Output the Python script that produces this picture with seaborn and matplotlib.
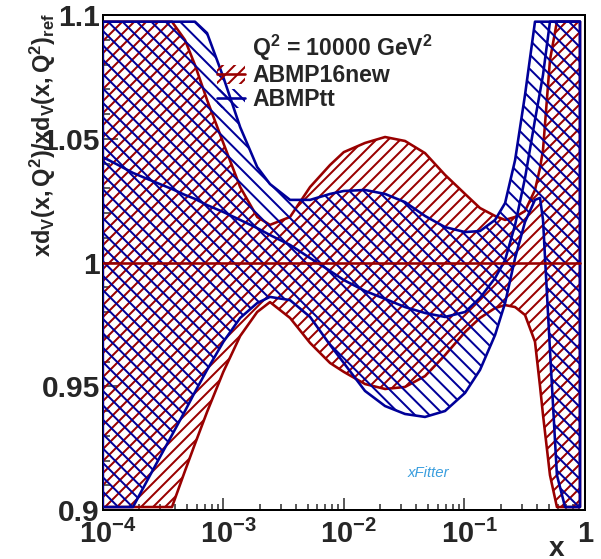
import numpy as np
import matplotlib
matplotlib.use("Agg")
import matplotlib.pyplot as plt
import matplotlib.hatch as mhatch
import matplotlib.transforms as mtransforms
from matplotlib.patches import Patch
from matplotlib.lines import Line2D
from matplotlib.ticker import LogLocator, NullFormatter, MultipleLocator
import seaborn as sns

# ---------------- data ----------------
x_values = [1.0e-4, 1.39e-4, 1.78e-4, 2.47e-4, 3.75e-4, 4.81e-4, 5.82e-4, 7.33e-4,
            1.0e-3, 1.38e-3, 1.91e-3, 2.44e-3, 3.58e-3, 5.25e-3, 7.69e-3, 1.0e-2,
            1.50e-2, 2.20e-2, 3.22e-2, 4.72e-2, 6.92e-2, 0.1014, 0.135, 0.180,
            0.218, 0.264, 0.319, 0.386, 0.425, 0.450, 0.514, 0.587, 0.686, 0.783, 0.912]

abmp16_upper = [1.1, 1.1, 1.1, 1.1, 1.1, 1.0899, 1.0798, 1.0657, 1.0483, 1.0305,
                1.0184, 1.0152, 1.0184, 1.0305, 1.0394, 1.0446, 1.0483, 1.0507, 1.0491,
                1.0442, 1.0354, 1.0277, 1.0220, 1.0188, 1.0172, 1.0184, 1.0208, 1.0293,
                1.0382, 1.0455, 1.0818, 1.1, 1.1, 1.1, 1.1]
abmp16_lower = [0.9, 0.9, 0.9, 0.9, 0.9, 0.9158, 0.9267, 0.9396, 0.9558, 0.9703,
                0.9800, 0.9840, 0.9776, 0.9675, 0.9594, 0.9558, 0.9509, 0.9489, 0.9497,
                0.9541, 0.9626, 0.9719, 0.9776, 0.9816, 0.9828, 0.9820, 0.9788, 0.9680,
                0.9500, 0.9384, 0.9141, 0.9, 0.9, 0.9, 0.9]
abmp16_central = [1.0] * 35

abmptt_upper = [1.1, 1.1, 1.1, 1.1, 1.1, 1.1, 1.1, 1.0927, 1.0749, 1.0547,
                1.0386, 1.0317, 1.0253, 1.0253, 1.0277, 1.0289, 1.0293, 1.0277, 1.0244,
                1.0188, 1.0143, 1.0123, 1.0127, 1.0172, 1.0240, 1.0414, 1.0677, 1.1,
                1.1, 1.1, 1.1, 1.1, 1.1, 1.1, 1.1]
abmptt_lower = [0.9, 0.9, 0.9, 0.9141, 0.9303, 0.9400, 0.9477, 0.9566, 0.9679, 0.9776,
                0.9836, 0.9861, 0.9848, 0.9780, 0.9667, 0.9594, 0.9481, 0.9420, 0.9388,
                0.9376, 0.9400, 0.9473, 0.9566, 0.9707, 0.9836, 1.0018, 1.0164, 1.0253,
                1.0261, 1.0172, 0.9646, 0.9141, 0.9, 0.9, 0.9]
abmptt_central = [1.0426, 1.0390, 1.0362, 1.0333, 1.0297, 1.0273, 1.0257, 1.0232, 1.0204,
                  1.0172, 1.0139, 1.0111, 1.0071, 1.0018, 0.9966, 0.9929, 0.9885, 0.9853,
                  0.9820, 0.9796, 0.9780, 0.9800, 0.9857, 0.9937, 1.0010, 1.0152, 1.0341,
                  1.0576, 1.0689, 1.0758, 1.1, 1.1, 1.1, 1.1, 1.1]

series_labels = ["ABMP16new", "ABMPtt"]
scale_label = r"$\mathrm{Q^{2}}$ = 10000 GeV$^{2}$"
x_ticks = [1e-4, 1e-3, 1e-2, 1e-1, 1.0]
x_tick_labels = [r"$\mathrm{10^{-4}}$", r"$\mathrm{10^{-3}}$", r"$\mathrm{10^{-2}}$",
                 r"$\mathrm{10^{-1}}$", "1"]
y_ticks = [0.9, 0.95, 1.0, 1.05, 1.1]
y_tick_labels = ["0.9", "0.95", "1", "1.05", "1.1"]
y_label = r"$\mathrm{xd_{V}(x,Q^{2})/xd_{V}(x,Q^{2})_{ref}}$"
x_label = "x"

# ---------------- style ----------------
RED = "#990000"
BLUE = "#000099"


# slightly wider spacing for the "\" hatch (ROOT style 3005-like)
class _WideSouthEastHatch(mhatch.SouthEastHatch):
    def __init__(self, hatch, density):
        self.num_lines = int(hatch.count("\\") * 10)
        self.num_vertices = (self.num_lines + 1) * 2 if self.num_lines else 0


try:
    _i = mhatch._hatch_types.index(mhatch.SouthEastHatch)
    mhatch._hatch_types[_i] = _WideSouthEastHatch
    BLUE_HATCH = "\\"
except Exception:
    BLUE_HATCH = "\\\\"

sns.set_theme(style="ticks")
plt.rcParams.update({
    "font.family": ["Liberation Sans", "DejaVu Sans"],
    "font.weight": "bold",
    "mathtext.fontset": "custom",
    "mathtext.rm": "Liberation Sans:bold",
    "mathtext.it": "Liberation Sans:bold",
    "mathtext.bf": "Liberation Sans:bold",
    "mathtext.default": "rm",
    "hatch.linewidth": 2.0,
    "axes.linewidth": 2.0,
    "axes.edgecolor": "black",
})

W, H, DPI = 601, 559, 72
fig = plt.figure(figsize=(W / DPI, H / DPI), dpi=DPI, facecolor="white")
ax = fig.add_axes([102.8 / W, 49 / H, 482.0 / W, 495 / H])
ax.set_facecolor("white")

x = np.array(x_values)
lo_cap, hi_cap = 0.9012, 1.0973

def cap(v):
    return np.clip(np.array(v), lo_cap, hi_cap)

# bands
plt.rcParams["hatch.color"] = RED
ax.fill_between(x, cap(abmp16_lower), cap(abmp16_upper), facecolor="none",
                edgecolor=RED, hatch="//", linewidth=2.6, zorder=2)
plt.rcParams["hatch.color"] = BLUE
ax.fill_between(x, cap(abmptt_lower), cap(abmptt_upper), facecolor="none",
                edgecolor=BLUE, hatch=BLUE_HATCH, linewidth=2.6, zorder=3)

# central lines
sns.lineplot(x=x, y=cap(abmptt_central), ax=ax, color=BLUE, linewidth=2.6,
             estimator=None, sort=False, zorder=4)
sns.lineplot(x=x, y=cap(abmp16_central), ax=ax, color=RED, linewidth=2.6,
             estimator=None, sort=False, zorder=5)

# axes
ax.set_xscale("log")
ax.set_xlim(1e-4, 1.0)
ax.set_ylim(0.9, 1.1)
ax.set_xticks(x_ticks, labels=x_tick_labels)
ax.xaxis.set_minor_locator(LogLocator(base=10, subs=np.arange(2, 10)))
ax.xaxis.set_minor_formatter(NullFormatter())
ax.set_yticks(y_ticks, labels=y_tick_labels)
ax.yaxis.set_minor_locator(MultipleLocator(0.01))

ax.tick_params(axis="x", which="major", direction="in", length=12, width=1.5,
               labelsize=29, pad=10, top=False)
ax.tick_params(axis="x", which="minor", direction="in", length=6, width=1.5, top=False)
ax.tick_params(axis="y", which="major", direction="in", length=15, width=1.5,
               labelsize=30, pad=3, right=False)
ax.tick_params(axis="y", which="minor", direction="in", length=7, width=1.5, right=False)
for lab in ax.get_yticklabels() + ax.get_xticklabels():
    lab.set_fontweight("bold")

offset = mtransforms.ScaledTranslation(5 / DPI, 0, fig.dpi_scale_trans)
for lab in ax.get_xticklabels()[:-1]:
    lab.set_transform(lab.get_transform() + offset)

for s in ["top", "right", "left", "bottom"]:
    ax.spines[s].set_visible(True)
    ax.spines[s].set_linewidth(2.0)
    ax.spines[s].set_color("black")

ax.set_ylabel(y_label, fontsize=23.5, loc="top")
ax.yaxis.set_label_coords(-0.092, 1.004)
ax.set_xlabel(x_label, fontsize=28, fontweight="bold", loc="right")
ax.xaxis.set_label_coords(0.958, -0.052)

# legend
q2_handle = Patch(visible=False)
red_handle = (Patch(facecolor="none", edgecolor=RED, hatch="//", linewidth=0),
              Line2D([], [], color=RED, linewidth=2.6))
blue_handle = (Patch(facecolor="none", edgecolor=BLUE, hatch=BLUE_HATCH, linewidth=0),
               Line2D([], [], color=BLUE, linewidth=2.6))
leg = ax.legend([q2_handle, red_handle, blue_handle],
                [scale_label] + series_labels,
                loc="upper left", bbox_to_anchor=(217 / W, 1 - 33 / H),
                bbox_transform=fig.transFigure, frameon=False, borderpad=0,
                borderaxespad=0, handlelength=1.22, handleheight=0.9,
                handletextpad=0.3, labelspacing=0.05,
                prop={"family": "Liberation Sans", "weight": "bold", "size": 23})

# xFitter logo text
fig.text(428 / W, 1 - 473 / H, "xFitter", color="#3a9ede", fontsize=15,
         fontstyle="italic", fontweight="normal", family="Liberation Sans",
         ha="center", va="center")

fig.savefig("out.png", dpi=DPI, facecolor="white")
